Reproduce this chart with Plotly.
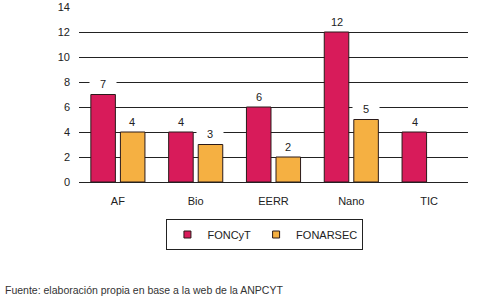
import plotly.graph_objects as go

categories = ["AF", "Bio", "EERR", "Nano", "TIC"]
foncyt = [7, 4, 6, 12, 4]
fonarsec = [4, 3, 2, 5, None]
y_ticks = [0, 2, 4, 6, 8, 10, 12, 14]

C1 = "#D81B5A"
C2 = "#F5B042"
EDGE = "#2a1a1a"
FONT = "Liberation Sans, Arial, sans-serif"

fig = go.Figure()
fig.add_trace(go.Bar(name="FONCyT", x=categories, y=foncyt, showlegend=False,
                     marker=dict(color=C1, line=dict(color=EDGE, width=1))))
fig.add_trace(go.Bar(name="FONARSEC", x=categories, y=fonarsec, showlegend=False,
                     marker=dict(color=C2, line=dict(color=EDGE, width=1))))
# legend entries with small square swatches
for name, col in (("FONCyT", C1), ("FONARSEC", C2)):
    fig.add_trace(go.Scatter(name=name, x=[None], y=[None], mode="markers",
                             marker=dict(symbol="square", size=7, color=col, line=dict(color=EDGE, width=1))))

# value labels with white background (break gridlines like the original)
for i, c in enumerate(categories):
    for vals, shift in ((foncyt, -14.5), (fonarsec, 14.5)):
        v = vals[i]
        if v is None:
            continue
        fig.add_annotation(x=c, y=v, text=str(v), showarrow=False, xshift=shift, yshift=11,
                           yanchor="middle", width=26, height=13,
                           bgcolor="white", font=dict(size=11, color="#222", family=FONT),
                           borderpad=0)

fig.add_annotation(xref="paper", yref="paper", x=-0.1954, y=-0.617, xanchor="left", yanchor="middle",
                   text="Fuente: elaboración propia en base a la web de la ANPCYT", showarrow=False,
                   font=dict(size=10.5, color="#333", family=FONT))

fig.update_layout(
    width=498, height=302,
    margin=dict(l=79, r=30, t=7, b=120, autoexpand=False),
    paper_bgcolor="white", plot_bgcolor="white",
    barmode="group", bargap=0.24, bargroupgap=0.17,
    font=dict(family=FONT, size=11, color="#222"),
    showlegend=True,
    legend=dict(orientation="h", x=0.478, y=-0.30, xanchor="center", yanchor="middle",
                bordercolor="#222", borderwidth=1, font=dict(size=11, family=FONT, color="#222"),
                itemwidth=30, tracegroupgap=0),
    yaxis=dict(range=[0, 14], tickvals=y_ticks, showgrid=True, gridcolor="#222", gridwidth=1,
               zeroline=False, showline=False, ticks="", ticklabelstandoff=8,
               tickfont=dict(size=11)),
    xaxis=dict(showline=True, linecolor="#222", linewidth=1, ticks="", ticklabelstandoff=9,
               tickfont=dict(size=11)),
)
fig.write_html("out.html", config={"displayModeBar": False},
               post_script="document.body.style.margin='0';")
